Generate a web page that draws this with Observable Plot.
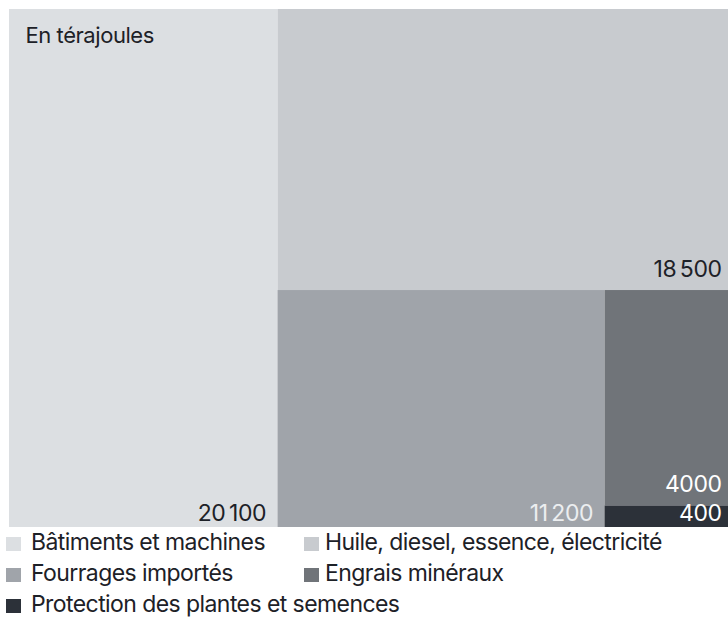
<!DOCTYPE html>
<html>
<head>
<meta charset="utf-8">
<script src="https://cdn.jsdelivr.net/npm/d3@7"></script>
<script src="https://cdn.jsdelivr.net/npm/@observablehq/plot@0.6"></script>
<style>
  body { margin: 0; background: #fff; overflow: hidden; font-family: Inter, "Noto Sans", sans-serif; }
  #chart svg { display: block; }
  .legend { display: flex; flex-wrap: wrap; width: 728px; margin-top: -3px; font-size: 23px; line-height: 31px; color: #1d2127; letter-spacing: -0.025em; }
  .item { white-space: nowrap; box-sizing: border-box; }
  .item.c0 { width: 304px; padding-left: 6px; }
  .item.c1 { width: 424px; padding-left: 0; }
  .sw { display: inline-block; width: 15px; height: 14px; margin-right: 10px; margin-bottom: -1px; }
  .item.c1 .sw { margin-right: 6px; }
</style>
</head>
<body>
<div id="chart"></div>
<div class="legend" id="legend"></div>
<script>
// Energy inputs of agriculture, in terajoules
const categories = [
  "Bâtiments et machines",
  "Huile, diesel, essence, électricité",
  "Fourrages importés",
  "Engrais minéraux",
  "Protection des plantes et semences"
];
const values = [20100, 18500, 11200, 4000, 400];
const colors = ["#dcdfe2", "#c8cbcf", "#a0a4aa", "#707479", "#2c3139"];
const unitLabel = "En térajoules";

const colorOf = name => colors[categories.indexOf(name)];
const labelColor = name => {
  const l = d3.lab(colorOf(name)).l;
  return l > 75 ? "#1d2127" : l > 60 ? "#eceef0" : "#ffffff";
};
// thin space as thousands separator, only from five digits on
const fmt = v => v >= 10000 ? d3.format(",")(v).replace(/,/g, "\u2009") : String(v);

// squarified treemap in layout units
const W = 724, H = 518;
const root = d3.hierarchy({children: categories.map((name, i) => ({name, value: values[i]}))})
  .sum(d => d.value)
  .sort((a, b) => b.value - a.value);
d3.treemap().tile(d3.treemapSquarify.ratio(1)).size([W, H]).round(false)(root);
const cells = root.leaves().map(d => ({
  name: d.data.name, value: d.data.value, x0: d.x0, x1: d.x1, y0: d.y0, y1: d.y1
}));
const atBottom = d => d.y1 >= H - 0.5;

const labelOpts = {
  x: "x1", y: "y1", text: d => fmt(d.value),
  textAnchor: "end", lineAnchor: "bottom", dx: -12,
  fill: d => labelColor(d.name), fontSize: 23, fontFamily: "Inter",
  style: "letter-spacing:-0.02em"
};

const chart = Plot.plot({
  width: 728,
  height: 530,
  margin: 0,
  style: {background: "#fff", overflow: "hidden"},
  x: {domain: [0, W], range: [9, 9 + W], axis: null},
  y: {domain: [0, H], range: [9, 9 + H], axis: null},
  marks: [
    Plot.rect(cells, {x1: "x0", x2: "x1", y1: "y0", y2: "y1", fill: d => colorOf(d.name)}),
    Plot.text(cells.filter(d => !atBottom(d)), {...labelOpts, dy: -14}),
    Plot.text(cells.filter(atBottom), {...labelOpts, dy: -6.5}),
    Plot.text([unitLabel], {
      frameAnchor: "top-left", dx: 25, dy: 42, lineAnchor: "bottom", textAnchor: "start",
      fontSize: 22, fontFamily: "Inter", fill: "#1d2127"
    })
  ]
});
chart.querySelectorAll("g[aria-label='text'] text").forEach(t => t.style.letterSpacing = "-0.02em");
document.getElementById("chart").append(chart);

// legend below the chart
const legend = d3.select("#legend");
categories.forEach((name, i) => {
  const item = legend.append("div").attr("class", "item c" + (i % 2));
  item.append("span").attr("class", "sw").style("background", colors[i]);
  item.append("span").text(name);
});
</script>
</body>
</html>
